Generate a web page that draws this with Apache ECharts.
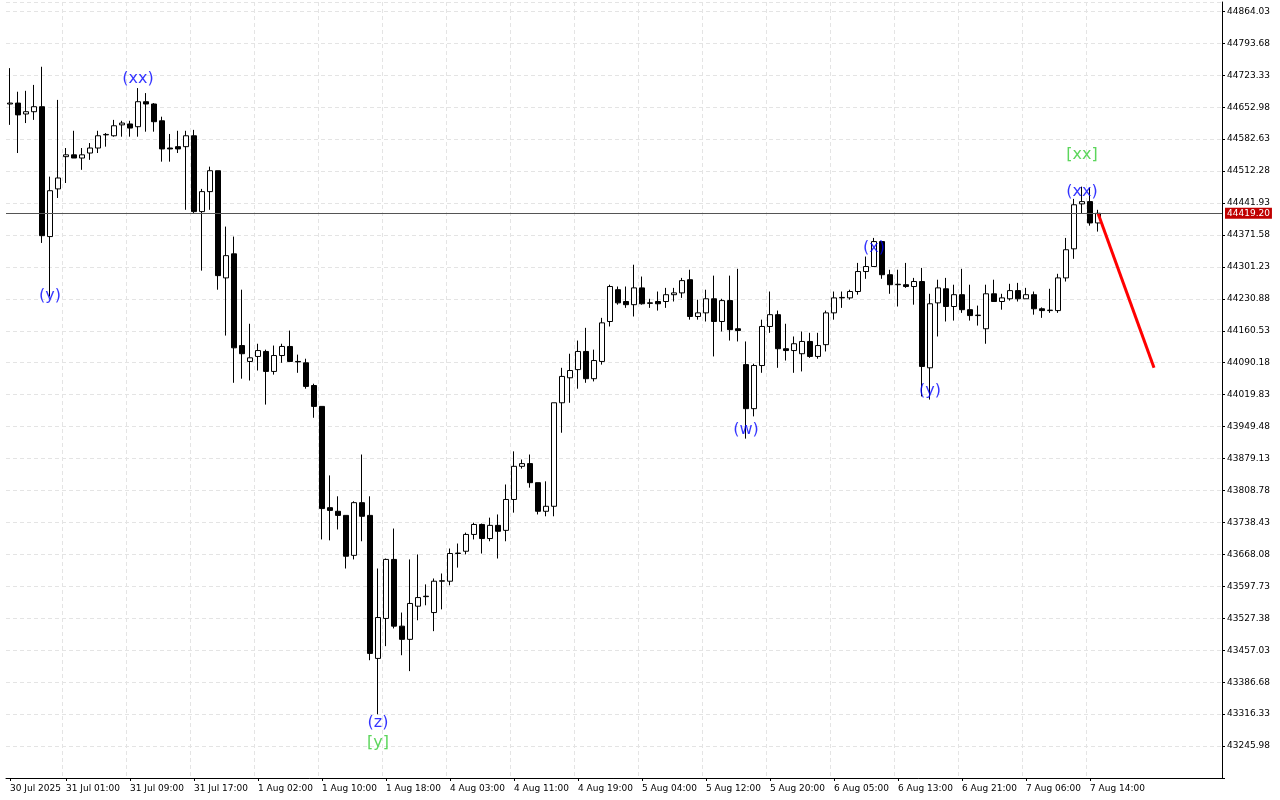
<!DOCTYPE html>
<html><head><meta charset="utf-8">
<script src="https://cdn.jsdelivr.net/npm/echarts@6/dist/echarts.min.js"></script>
<style>html,body{margin:0;padding:0;background:#fff}#c{width:1280px;height:800px}</style>
</head><body><div id="c"></div>
<script>
const opens=[44660,44662,44638,44643,44654,44368,44473,44544,44548,44541,44552,44563,44592,44590,44614,44616,44610,44665,44660,44623,44563,44566,44566,44590,44423,44467,44513,44277,44330,44128,44093,44104,44115,44071,44106,44126,44093,44090,44040,43994,43771,43763,43754,43666,43782,43754,43439,43527,43657,43510,43481,43554,43576,43540,43609,43609,43670,43675,43712,43734,43703,43732,43721,43789,43862,43868,43826,43763,43774,44002,44057,44075,44115,44055,44093,44181,44251,44225,44218,44255,44222,44225,44225,44240,44244,44273,44192,44200,44231,44181,44227,44165,44086,43989,44084,44170,44196,44121,44117,44110,44137,44104,44130,44200,44233,44233,44247,44291,44302,44357,44284,44262,44262,44258,44269,44079,44222,44253,44214,44240,44207,44194,44165,44242,44225,44231,44249,44231,44240,44209,44205,44205,44277,44341,44440,44445,44398];
const closes=[44662,44636,44643,44654,44370,44469,44497,44548,44541,44548,44563,44590,44593,44612,44618,44607,44665,44660,44621,44561,44561,44561,44590,44423,44467,44513,44282,44326,44123,44110,44101,44117,44071,44106,44126,44093,44092,44038,43994,43769,43765,43754,43664,43782,43752,43450,43529,43657,43510,43481,43560,43573,43575,43609,43610,43670,43671,43712,43734,43703,43732,43719,43789,43862,43868,43826,43763,43774,44002,44060,44073,44115,44055,44095,44178,44258,44222,44218,44255,44220,44221,44220,44240,44244,44271,44192,44200,44231,44181,44227,44163,44161,43989,44084,44170,44196,44121,44117,44132,44137,44104,44128,44200,44233,44234,44247,44291,44302,44357,44284,44262,44263,44258,44269,44082,44220,44255,44214,44240,44207,44194,44195,44242,44225,44233,44249,44231,44240,44209,44205,44206,44277,44339,44438,44445,44398,44419.2];
const lows=[44614,44552,44618,44625,44354,44236,44453,44486,44541,44515,44537,44552,44566,44588,44588,44588,44588,44599,44599,44533,44533,44552,44427,44420,44293,44427,44251,44150,44046,44055,44051,44073,43998,44064,44090,44093,44068,44033,43969,43701,43699,43723,43637,43657,43697,43435,43316,43466,43505,43446,43411,43523,43556,43499,43547,43600,43639,43668,43701,43670,43697,43659,43697,43760,43857,43815,43756,43752,43752,43936,44002,44033,44046,44049,44086,44170,44218,44211,44192,44218,44211,44205,44211,44225,44233,44185,44185,44181,44104,44159,44139,44137,43923,43972,44068,44156,44079,44095,44068,44071,44101,44099,44115,44185,44211,44229,44240,44275,44302,44275,44242,44214,44255,44218,44016,44009,44148,44181,44183,44200,44183,44172,44132,44225,44207,44227,44225,44231,44196,44189,44200,44200,44269,44319,44418,44392,44379];
const highs=[44739,44687,44689,44702,44742,44500,44669,44563,44601,44563,44574,44601,44596,44625,44623,44623,44695,44684,44662,44632,44594,44601,44601,44603,44473,44522,44513,44390,44368,44251,44176,44132,44119,44128,44132,44161,44108,44099,44044,43994,43842,43796,43754,43785,43888,43796,43637,43659,43725,43540,43657,43668,43602,43615,43626,43681,43692,43716,43738,43736,43749,43756,43822,43895,43877,43888,43826,43829,44002,44079,44110,44139,44167,44119,44189,44262,44258,44258,44306,44280,44231,44247,44255,44255,44277,44295,44229,44251,44282,44231,44282,44297,44137,44088,44185,44247,44205,44176,44148,44159,44156,44156,44205,44247,44247,44251,44310,44324,44365,44357,44295,44295,44310,44277,44299,44242,44273,44277,44262,44297,44262,44216,44262,44273,44242,44264,44266,44255,44247,44212,44253,44286,44365,44451,44478,44475,44427];
const timeLabels=['30 Jul 2025','31 Jul 01:00','31 Jul 09:00','31 Jul 17:00','1 Aug 02:00','1 Aug 10:00','1 Aug 18:00','4 Aug 03:00','4 Aug 11:00','4 Aug 19:00','5 Aug 04:00','5 Aug 12:00','5 Aug 20:00','6 Aug 05:00','6 Aug 13:00','6 Aug 21:00','7 Aug 06:00','7 Aug 14:00'];
const labelIdx=[0,7,15,23,31,39,47,55,63,71,79,87,95,103,111,119,127,135];
const totalSlots=152;
const currentPrice=44419.20;
const forecastFrom=[136,44419.2], forecastTo=[143,44079];
const waveLabels=[['(xx)',16,44715,'#0000ff'],['(y)',5,44238,'#0000ff'],['(z)',46,43298,'#0000ff'],['[y]',46,43254,'#33cc33'],['(w)',92,43943,'#0000ff'],['(x)',108,44343,'#0000ff'],['(y)',115,44029,'#0000ff'],['(xx)',134,44467,'#0000ff'],['[xx]',134,44548,'#33cc33']];
const yMin=43175.63, yMax=44884.6, yStep=70.35;

const cats=[];for(let i=0;i<totalSlots;i++){const k=labelIdx.indexOf(i);cats.push(k>=0?timeLabels[k]:'s'+i);}
const kdata=opens.map((o,i)=>[o,closes[i],lows[i],highs[i]]);
const fc=new Array(totalSlots).fill(null);fc[forecastFrom[0]]=forecastFrom[1];fc[forecastTo[0]]=forecastTo[1];
const isLab=(i)=>labelIdx.indexOf(i)>=0;
const chart=echarts.init(document.getElementById('c'));
chart.setOption({
 animation:false,
 grid:{left:6,right:58,top:2,bottom:22,show:false},
 xAxis:{type:'category',data:cats,boundaryGap:true,
  axisLine:{lineStyle:{color:'#000'}},axisTick:{show:true,interval:(i)=>isLab(i),length:3,lineStyle:{color:'#000'},alignWithLabel:true},
  axisLabel:{interval:(i)=>isLab(i),formatter:(v)=>v.startsWith('s')?'':v,color:'#000',fontSize:9,fontFamily:'DejaVu Sans',align:'left',margin:6},
  splitLine:{show:true,interval:(i)=>isLab(i)&&i>0,lineStyle:{color:'#e4e4e4',type:[4,3]}}},
 yAxis:{type:'value',position:'right',min:yMin,max:yMax,interval:yStep,scale:true,
  axisLine:{show:true,lineStyle:{color:'#000'}},axisTick:{show:true,length:3,lineStyle:{color:'#000'}},
  axisLabel:{color:'#000',fontSize:9,fontFamily:'DejaVu Sans',margin:5,showMaxLabel:false,formatter:(v)=>v<43200?'':v.toFixed(2)},
  splitLine:{show:true,lineStyle:{color:'#e4e4e4',type:[4,3]}}},
 series:[
  {type:'candlestick',data:kdata,barWidth:5,
   itemStyle:{color:'#fff',color0:'#000',borderColor:'#000',borderColor0:'#000',borderWidth:1},
   markLine:{symbol:'none',silent:true,data:[{yAxis:currentPrice}],lineStyle:{color:'#555',width:1,type:'solid'},
    label:{position:'end',formatter:currentPrice.toFixed(2),color:'#fff',backgroundColor:'#c00000',fontSize:9,fontFamily:'DejaVu Sans',padding:[1,2],distance:3}}},
  {type:'line',data:fc,connectNulls:true,symbol:'none',lineStyle:{color:'#ff0000',width:3}},
  {type:'scatter',symbolSize:0,data:waveLabels.map(w=>({value:[w[1],w[2]],label:{show:true,formatter:w[0],color:w[3],fontSize:16,fontFamily:'DejaVu Sans',position:'inside'}})),z:10}
 ]
});
</script></body></html>
